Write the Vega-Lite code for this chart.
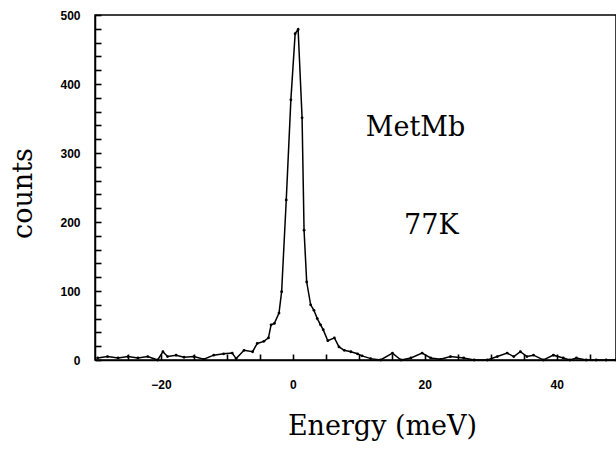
{
  "$schema": "https://vega.github.io/schema/vega-lite/v6.json",
  "width": 521,
  "height": 345,
  "autosize": {"type": "none"},
  "padding": {"left": 95, "top": 15, "right": 0, "bottom": 90},
  "background": "white",
  "config": {
    "view": {"stroke": "black", "strokeWidth": 1.5}
  },
  "datasets": {
    "spectrum": [
      {"E": -29.6, "c": 3}, {"E": -28.1, "c": 5}, {"E": -26.5, "c": 3}, {"E": -25, "c": 5},
      {"E": -23.5, "c": 3}, {"E": -22, "c": 5}, {"E": -20.5, "c": 0}, {"E": -19.7, "c": 12},
      {"E": -19, "c": 5}, {"E": -17.7, "c": 7}, {"E": -16.5, "c": 4}, {"E": -15, "c": 5},
      {"E": -13.5, "c": 1}, {"E": -12, "c": 7}, {"E": -10.5, "c": 9}, {"E": -9.2, "c": 10},
      {"E": -8.6, "c": 2}, {"E": -7.4, "c": 14}, {"E": -6.1, "c": 12}, {"E": -5.4, "c": 24},
      {"E": -4.4, "c": 27}, {"E": -3.7, "c": 32}, {"E": -3.3, "c": 51}, {"E": -2.8, "c": 53},
      {"E": -2.1, "c": 68}, {"E": -1.7, "c": 99}, {"E": -1.0, "c": 232}, {"E": -0.3, "c": 377},
      {"E": 0.35, "c": 473}, {"E": 0.8, "c": 479}, {"E": 1.4, "c": 351}, {"E": 1.7, "c": 188},
      {"E": 2.1, "c": 113}, {"E": 2.7, "c": 80}, {"E": 3.2, "c": 72}, {"E": 3.7, "c": 60},
      {"E": 4.2, "c": 51}, {"E": 4.6, "c": 44}, {"E": 5.3, "c": 28}, {"E": 6.3, "c": 32},
      {"E": 7.0, "c": 19}, {"E": 7.8, "c": 14}, {"E": 8.8, "c": 12}, {"E": 9.8, "c": 9},
      {"E": 10.5, "c": 6}, {"E": 11.8, "c": 2}, {"E": 13.3, "c": 0}, {"E": 15.1, "c": 10},
      {"E": 16.4, "c": 0}, {"E": 17.9, "c": 3}, {"E": 19.6, "c": 10}, {"E": 20.9, "c": 3},
      {"E": 22.4, "c": 1}, {"E": 23.9, "c": 5}, {"E": 25.9, "c": 3}, {"E": 27.5, "c": 0},
      {"E": 29.5, "c": 0}, {"E": 31, "c": 5}, {"E": 32.5, "c": 10}, {"E": 33.5, "c": 5},
      {"E": 34.5, "c": 12}, {"E": 35.5, "c": 5}, {"E": 36.5, "c": 7}, {"E": 38, "c": 0},
      {"E": 39.5, "c": 7}, {"E": 41, "c": 3}, {"E": 42, "c": 0}, {"E": 43, "c": 3},
      {"E": 44.5, "c": 0}, {"E": 46, "c": 0}, {"E": 47.5, "c": 0}, {"E": 49, "c": 0}
    ],
    "notes": [
      {"E": 18.6, "c": 336, "text": "MetMb"},
      {"E": 21, "c": 194, "text": "77K"}
    ]
  },
  "encoding": {
    "x": {
      "field": "E", "type": "quantitative",
      "scale": {"domain": [-30, 49], "nice": false, "zero": false},
      "axis": {
        "title": "Energy (meV)",
        "titleFont": "DejaVu Serif", "titleFontSize": 27, "titleFontWeight": "normal", "titleColor": "black",
        "titleX": 287, "titleY": 74, "titleAnchor": "middle", "titleBaseline": "alphabetic",
        "values": [-25, -20, -15, -10, -5, 0, 5, 10, 15, 20, 25, 30, 35, 40, 45],
        "labelExpr": "datum.value % 20 === 0 ? datum.label : ''",
        "labelFont": "Liberation Sans", "labelFontWeight": "bold", "labelFontSize": 12, "labelColor": "black",
        "labelOverlap": false, "grid": false, "domain": true, "domainColor": "black", "domainWidth": 1.5,
        "ticks": true, "tickColor": "black", "tickWidth": 1.6, "tickSize": -6,
        "labelPadding": 25
      }
    },
    "y": {
      "field": "c", "type": "quantitative",
      "scale": {"domain": [0, 500], "nice": false},
      "axis": {
        "title": "counts",
        "titleFont": "DejaVu Serif", "titleFontSize": 27, "titleFontWeight": "normal", "titleColor": "black",
        "titleX": -72, "titleY": 178, "titleAnchor": "middle", "titleBaseline": "middle",
        "values": [0, 20, 40, 60, 80, 100, 120, 140, 160, 180, 200, 220, 240, 260, 280, 300, 320, 340, 360, 380, 400, 420, 440, 460, 480, 500],
        "labelExpr": "datum.value % 100 === 0 ? datum.label : ''",
        "labelFont": "Liberation Sans", "labelFontWeight": "bold", "labelFontSize": 12, "labelColor": "black",
        "labelOverlap": false, "grid": false, "domain": true, "domainColor": "black", "domainWidth": 1.5,
        "ticks": true, "tickColor": "black", "tickWidth": 1.6, "tickSize": -6,
        "labelPadding": 21
      }
    }
  },
  "layer": [
    {
      "data": {"name": "spectrum"},
      "mark": {"type": "line", "color": "black", "strokeWidth": 1.5}
    },
    {
      "data": {"name": "spectrum"},
      "mark": {"type": "point", "filled": true, "color": "black", "size": 8, "opacity": 1}
    },
    {
      "data": {"name": "notes"},
      "mark": {"type": "text", "font": "DejaVu Serif", "fontSize": 27, "color": "black", "align": "center", "baseline": "middle"},
      "encoding": {"text": {"field": "text"}}
    }
  ]
}
